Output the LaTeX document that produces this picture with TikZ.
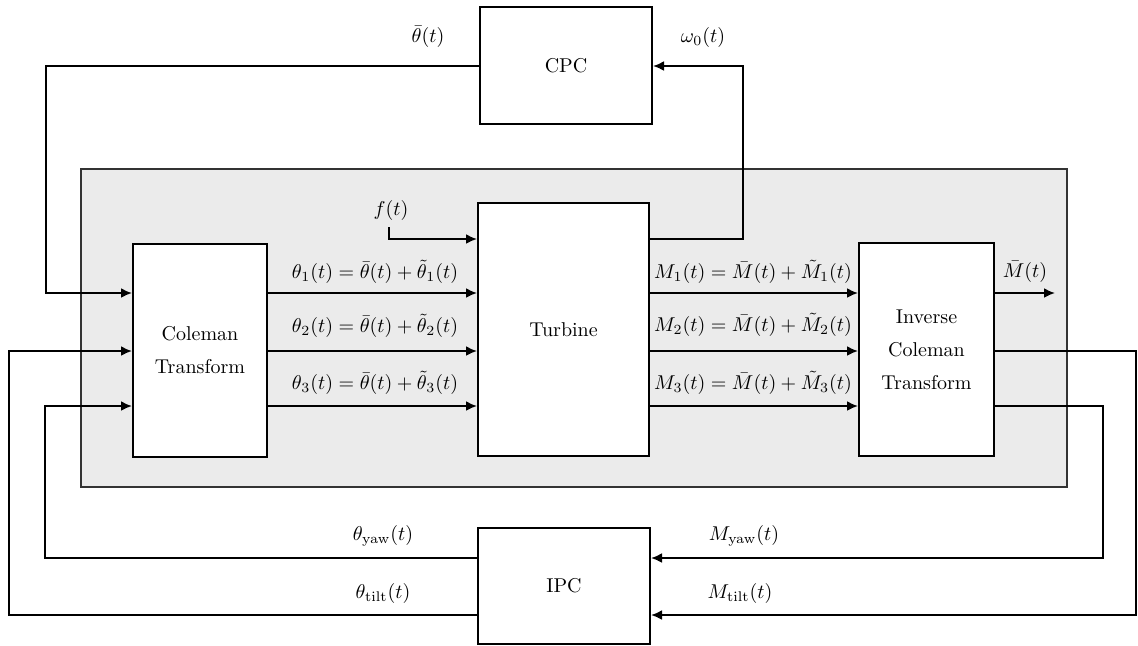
\documentclass[tikz,border=0pt]{standalone}
\usepackage{amsmath}
\usetikzlibrary{arrows.meta}
\begin{document}
\begin{tikzpicture}[x=0.5pt,y=-0.5pt,
  blk/.style={draw, line width=1pt, fill=white, inner sep=0pt, align=center},
  conn/.style={line width=1pt},
  arr/.style={conn, -{Latex[length=5.5pt,width=5pt]}},
  lbl/.style={inner sep=0pt}]
\useasboundingbox (0,0) rectangle (1138,645);
\fill[white] (0,0) rectangle (1138,645);
% plant region
\node[draw=black!80, fill=black!8, line width=0.8pt, minimum width=493pt, minimum height=159pt, inner sep=0pt] (plant) at (574,328) {};
% blocks
\node[blk, minimum width=86pt, minimum height=58.5pt] (cpc) at (566,65.5) {CPC};
\node[blk, minimum width=85.5pt, minimum height=126.5pt] (tur) at (563.5,329.5) {Turbine};
\node[blk, minimum width=67pt, minimum height=106.5pt] (col) at (200,350.5) {Coleman\\[4.5pt]Transform};
\node[blk, minimum width=67.5pt, minimum height=106.5pt] (icol) at (926.5,349.5) {Inverse\\[4.5pt]Coleman\\[4.5pt]Transform};
\node[blk, minimum width=86pt, minimum height=58pt] (ipc) at (564,586) {IPC};
% levels
\coordinate (r0) at (0,239);
\coordinate (r1) at (0,293);
\coordinate (r2) at (0,351);
\coordinate (r3) at (0,406);
\coordinate (ry) at (0,558);
\coordinate (rt) at (0,615);
\coordinate (fstart) at (389,227);
\coordinate (mbarend) at (1055,293);
% CPC loop
\draw[arr] (cpc.west |- 0,66) -- (46,66) -- (46,293) -- (col.west |- r1);
\draw[arr] (tur.east |- r0) -- (743,239) -- (743,66) -- (cpc.east |- 0,66);
\draw[arr] (fstart) -- (389,239) -- (tur.west |- r0);
% Coleman to turbine
\draw[arr] (col.east |- r1) -- (tur.west |- r1);
\draw[arr] (col.east |- r2) -- (tur.west |- r2);
\draw[arr] (col.east |- r3) -- (tur.west |- r3);
% turbine to inverse coleman
\draw[arr] (tur.east |- r1) -- (icol.west |- r1);
\draw[arr] (tur.east |- r2) -- (icol.west |- r2);
\draw[arr] (tur.east |- r3) -- (icol.west |- r3);
\draw[arr] (icol.east |- r1) -- (mbarend);
% IPC loop
\draw[arr] (icol.east |- r2) -- (1136,351) -- (1136,615) -- (ipc.east |- rt);
\draw[arr] (icol.east |- r3) -- (1103,406) -- (1103,558) -- (ipc.east |- ry);
\draw[arr] (ipc.west |- ry) -- (45,558) -- (45,406) -- (col.west |- r3);
\draw[arr] (ipc.west |- rt) -- (9,615) -- (9,351) -- (col.west |- r2);
% labels
\node[lbl] (lthb) at (428,37) {$\bar{\theta}(t)$};
\node[lbl] (lom) at (703,37) {$\omega_0(t)$};
\node[lbl] (lf) at (391,210) {$f(t)$};
\node[lbl] (lt1) at (375,272) {$\theta_1(t)=\bar{\theta}(t)+\tilde{\theta}_1(t)$};
\node[lbl] (lt2) at (375,326) {$\theta_2(t)=\bar{\theta}(t)+\tilde{\theta}_2(t)$};
\node[lbl] (lt3) at (375,383) {$\theta_3(t)=\bar{\theta}(t)+\tilde{\theta}_3(t)$};
\node[lbl] (lm1) at (753,272) {$M_1(t)=\bar{M}(t)+\tilde{M}_1(t)$};
\node[lbl] (lm2) at (753,325) {$M_2(t)=\bar{M}(t)+\tilde{M}_2(t)$};
\node[lbl] (lm3) at (753,383) {$M_3(t)=\bar{M}(t)+\tilde{M}_3(t)$};
\node[lbl] (lmb) at (1025,272) {$\bar{M}(t)$};
\node[lbl] (lty) at (383,536) {$\theta_{\mathrm{yaw}}(t)$};
\node[lbl] (ltt) at (383,593) {$\theta_{\mathrm{tilt}}(t)$};
\node[lbl] (lmy) at (744,536) {$M_{\mathrm{yaw}}(t)$};
\node[lbl] (lmt) at (740,593) {$M_{\mathrm{tilt}}(t)$};
\end{tikzpicture}
\end{document}
